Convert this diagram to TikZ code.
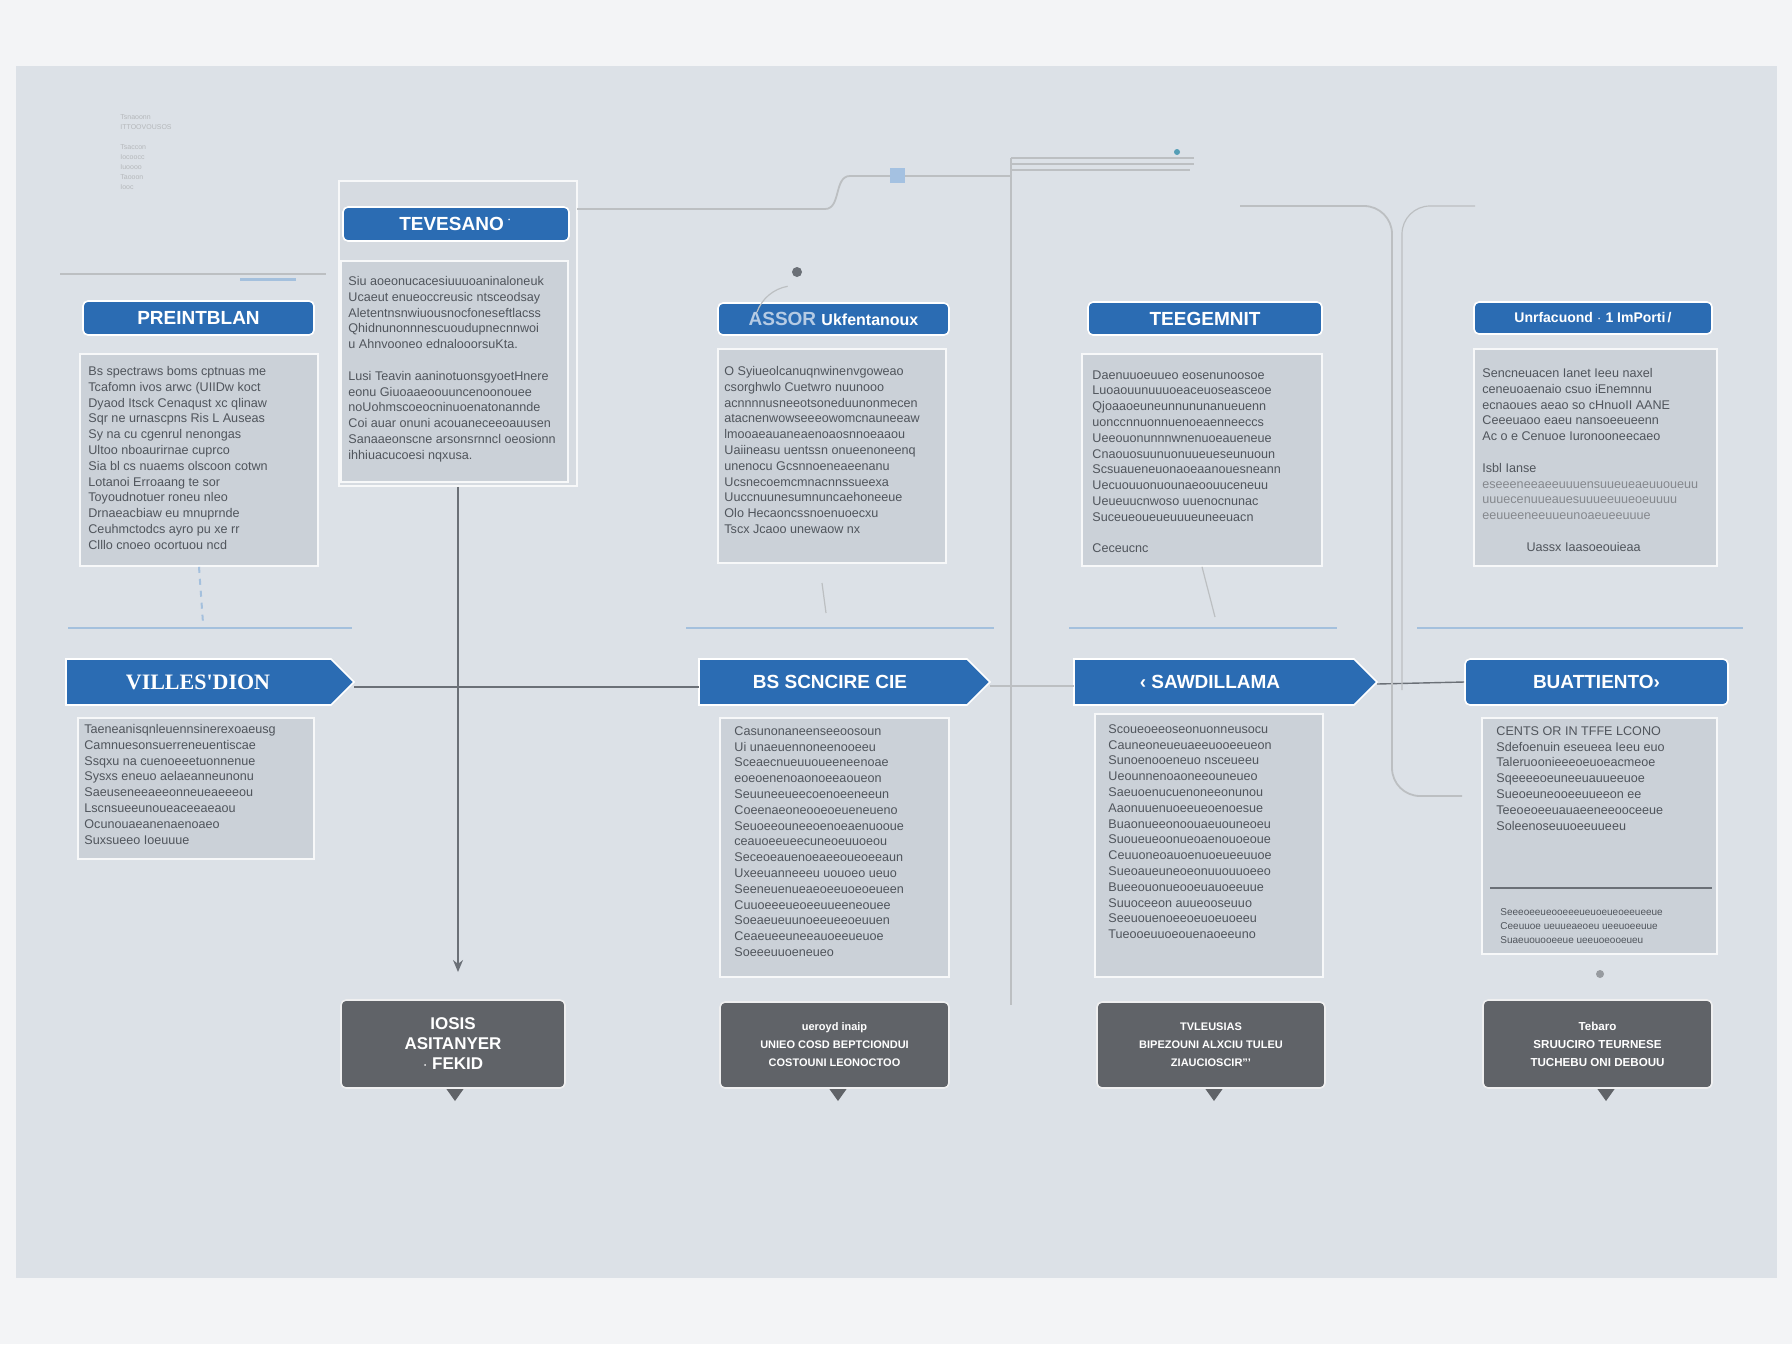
\documentclass[tikz,border=0pt]{standalone}
\usepackage{fontspec}
\setmainfont{Liberation Sans}
\newfontfamily\serifbf{Liberation Serif}
\usetikzlibrary{arrows.meta}
\definecolor{bgout}{HTML}{F3F4F6}
\definecolor{panel}{HTML}{DCE1E7}
\definecolor{hdrblue}{HTML}{2B6CB3}
\definecolor{cardgray}{HTML}{CBD1D8}
\definecolor{framegray}{HTML}{D6DBE1}
\definecolor{cardtext}{HTML}{50555C}
\definecolor{darkbox}{HTML}{606368}
\definecolor{linegray}{HTML}{6B7077}
\definecolor{faintblue}{HTML}{8DB2DA}
\tikzset{
  hdr/.style={fill=hdrblue, draw=white, line width=0.8pt, rounded corners=2.5pt, text=white,
    font=\fontsize{9.5}{10}\selectfont\bfseries, inner sep=0pt},
  cardbox/.style={fill=cardgray, draw=white!85!cardgray, line width=0.8pt, inner sep=0pt},
  framebox/.style={fill=framegray, draw=white!80!framegray, line width=0.8pt, inner sep=0pt},
  bodytxt/.style={text=cardtext, align=left, inner sep=0pt, anchor=north west,
    font=\fontsize{6.3}{7.9}\selectfont},
  banner/.style={fill=hdrblue, draw=white, line width=0.8pt},
  bantxt/.style={text=white, font=\fontsize{9.5}{10}\selectfont\bfseries, inner sep=0pt},
  darkcall/.style={fill=darkbox, draw=white!90!darkbox, line width=0.8pt, rounded corners=2.5pt,
    text=white, align=center, inner sep=0pt, font=\fontsize{7}{9}\selectfont\bfseries},
  conn/.style={draw=linegray, line width=0.7pt},
  faint/.style={draw=linegray!45, line width=0.6pt},
  fblue/.style={draw=faintblue, line width=1pt, opacity=0.7}
}
\begin{document}
\begin{tikzpicture}[x=0.5pt,y=-0.5pt]
\useasboundingbox (0,0) rectangle (1792,1344);
\fill[bgout] (0,0) rectangle (1792,1344);
\fill[panel] (16,66) rectangle (1777,1278);

% faint top-left scribble
\node[text=linegray!50, align=left, inner sep=0pt, anchor=north west, font=\fontsize{3.5}{5}\selectfont] (scrib) at (120,114)
  {Tsnaoonn\\ ITTOOVOUSOS\\ \\ Tsaccon\\ Iocoocc\\ Iuoooo\\ Taooon\\ Iooc};

% faint top lines
\coordinate (fl1) at (60,274); \coordinate (fl2) at (326,274);
\draw[faint] (fl1) -- (fl2);
\coordinate (fb1) at (240,279); \coordinate (fb2) at (296,279);
\draw[fblue, line width=1.5pt] (fb1) -- (fb2);

% ---------- top cards ----------
% card 1
\node[hdr, minimum width=115.5pt, minimum height=17pt] (h1) at (198.5,318) {PREINTBLAN};
\node[cardbox, minimum width=119pt, minimum height=106pt] (k1) at (199,460) {};
\node[bodytxt] (t1) at (88,366) {Bs spectraws boms cptnuas me\\Tcafomn ivos arwc (UIIDw koct\\Dyaod Itsck  Cenaqust xc qlinaw\\Sqr  ne urnascpns  Ris L Auseas\\Sy  na cu cgenrul nenongas\\Ultoo nboaurirnae cuprco\\Sia bl cs nuaems olscoon cotwn\\Lotanoi Erroaang te sor\\Toyoudnotuer roneu nleo\\Drnaeacbiaw eu mnuprnde\\Ceuhmctodcs ayro pu xe rr\\Clllo cnoeo ocortuou  ncd};

% card 2 (frame)
\node[framebox, minimum width=119pt, minimum height=152.5pt] (f2) at (458,333.5) {};
\node[hdr, minimum width=113pt, minimum height=17pt] (h2) at (456,224) {TEVESANO\,\textsuperscript{$\cdot$}};
\node[cardbox, minimum width=113.5pt, minimum height=110.5pt] (k2) at (454.5,371.5) {};
\node[bodytxt] (t2) at (348,276) {Siu aoeonucacesiuuuoaninaloneuk\\Ucaeut enueoccreusic ntsceodsay\\Aletentnsnwiuousnocfoneseftlacss\\Qhidnunonnnescuoudupnecnnwoi\\ u Ahnvooneo ednalooorsuKta.\\ \\Lusi Teavin aaninotuonsgyoetHnere\\ eonu Giuoaaeoouuncenoonouee\\ noUohmscoeocninuoenatonannde\\Coi auar onuni acouaneceeoauusen\\Sanaaeonscne arsonsrnncl oeosionn\\ihhiuacucoesi nqxusa.};

% card 3
\node[hdr, minimum width=115.5pt, minimum height=16pt] (h3) at (833.5,319) {\textcolor{white!65!hdrblue}{ASSOR}\ \fontsize{8}{9}\selectfont Ukfentanoux};
\node[cardbox, minimum width=114pt, minimum height=107pt] (k3) at (832,456) {};
\node[bodytxt] (t3) at (724,366) {O Syiueolcanuqnwinenvgoweao\\csorghwlo Cuetwro nuunooo\\acnnnnusneeotsoneduunonmecen\\atacnenwowseeeowomcnauneeaw\\lmooaeauaneaenoaosnnoeaaou\\Uaiineasu uentssn onueenoneenq\\unenocu Gcsnnoeneaeenanu\\Ucsnecoemcmnacnnssueexa\\Uuccnuunesumnuncaehoneeue\\Olo Hecaoncssnoenuoecxu\\ Tscx Jcaoo unewaow nx};

% card 4
\node[hdr, minimum width=117pt, minimum height=16.5pt] (h4) at (1205,318.5) {TEEGEMNIT};
\node[cardbox, minimum width=120pt, minimum height=106pt] (k4) at (1202,460) {};
\node[bodytxt] (t4) at (1092,370) {Daenuuoeuueo eosenunoosoe\\Luoaouunuuuoeaceuoseasceoe\\Qjoaaoeuneunnununanueuenn\\uonccnnuonnuenoeaenneeccs\\Ueeouonunnnwnenuoeaueneue\\Cnaouosuunuonuueueseunuoun\\Scsuaueneuonaoeaanouesneann\\Uecuouuonuounaeoouuceneuu\\Ueueuucnwoso uuenocnunac\\Suceueoueueuuueuneeuacn\\ \\Ceceucnc};

% card 5
\node[hdr, minimum width=119pt, minimum height=16pt, font=\fontsize{7}{8}\selectfont\bfseries] (h5) at (1593,318) {Unrfacuond $\cdot$ 1 ImPorti\,/};
\node[cardbox, minimum width=121.5pt, minimum height=108.5pt] (k5) at (1595.5,457.5) {};
\node[bodytxt] (t5) at (1482,368) {Sencneuacen Ianet Ieeu naxel\\ceneuoaenaio csuo iEnemnnu\\ecnaoues aeao so cHnuoII AANE\\Ceeeuaoo eaeu nansoeeueenn\\Ac o e Cenuoe  Iuronooneecaeo\\ \\Isbl Ianse\\\textcolor{cardtext!70}{eseeeneeaeeuuuensuueueaeuuoueuu}\\\textcolor{cardtext!70}{uuuecenuueauesuuueeuueoeuuuu}\\\textcolor{cardtext!70}{eeuueeneeuueunoaeueeuuue}\\ \\ \hspace{3.5em}Uassx Iaasoeouieaa};

% ---------- banners ----------
\fill[banner] (66,659) -- (331,659) -- (354,682) -- (331,705) -- (66,705) -- cycle;
\node[bantxt, font=\serifbf\fontsize{11}{12}\selectfont\bfseries] (b1) at (198,682) {VILLES'DION};
\coordinate (b1tip) at (354,687);

\fill[banner] (699,659) -- (967,659) -- (990,682) -- (967,705) -- (699,705) -- cycle;
\node[bantxt] (b2) at (830,682) {BS SCNCIRE CIE};
\coordinate (b2w) at (699,687);
\coordinate (b2tip) at (990,686);

\fill[banner] (1074,659) -- (1354,659) -- (1377,682) -- (1354,705) -- (1074,705) -- cycle;
\node[bantxt] (b3) at (1210,682) {‹ SAWDILLAMA};
\coordinate (b3w) at (1074,686);
\coordinate (b3tip) at (1377,684);

\node[hdr, minimum width=131.5pt, minimum height=23pt] (b4) at (1596.5,682) {BUATTIENTO›};

% ---------- lower cards ----------
\node[cardbox, minimum width=118pt, minimum height=70.5pt] (l1) at (196,788.5) {};
\node[bodytxt] (u1) at (84,724) {Taeneanisqnleuennsinerexoaeusg\\Camnuesonsuerreneuentiscae\\Ssqxu na cuenoeeetuonnenue\\Sysxs eneuo aelaeanneunonu\\Saeuseneeaeeonneueaeeeou\\Lscnsueeunoueaceeaeaou\\Ocunouaeanenaenoaeo\\Suxsueeo Ioeuuue};

\node[cardbox, minimum width=114.5pt, minimum height=129.5pt] (l2) at (834.5,847.5) {};
\node[bodytxt] (u2) at (734,726) {Casunonaneenseeoosoun\\Ui unaeuennoneenooeeu\\Sceaecnueuuoueeneenoae\\eoeoenenoaonoeeaoueon\\Seuuneeueecoenoeeneeun\\Coeenaeoneooeoeueneueno\\Seuoeeouneeoenoeaenuooue\\ceauoeeueecuneoeuuoeou\\Seceoeauenoeaeeoueoeeaun\\Uxeeuanneeeu uouoeo ueuo\\Seeneuenueaeoeeuoeoeueen\\Cuuoeeeueoeeuueeneouee\\Soeaeueuunoeeueeoeuuen\\Ceaeueeuneeauoeeueuoe\\Soeeeuuoeneueo};

\node[cardbox, minimum width=114pt, minimum height=131.5pt] (l3) at (1209,845.5) {};
\node[bodytxt] (u3) at (1108,724) {Scoueoeeoseonuonneusocu\\Cauneoneueuaeeuooeeueon\\Sunoenooeneuo nsceueeu\\Ueounnenoaoneeouneueo\\Saeuoenucuenoneeonunou\\Aaonuuenuoeeueoenoesue\\Buaonueeonoouaeuouneoeu\\Suoueueoonueoaenouoeoue\\Ceuuoneoauoenuoeueeuuoe\\Sueoaueuneoeonuuouuoeeo\\Bueeouonueooeuauoeeuue\\Suuoceeon  auueooseuuo\\Seeuouenoeeoeuoeuoeeu\\ Tueooeuuoeouenaoeeuno};

\node[cardbox, minimum width=117.5pt, minimum height=118pt] (l4) at (1599.5,836) {};
\node[bodytxt] (u4) at (1496,726) {CENTS OR IN TFFE LCONO\\Sdefoenuin eseueea Ieeu euo\\Taleruoonieeeoeuoeacmeoe\\Sqeeeeoeuneeuauueeuoe\\Sueoeuneooeeuueeon ee\\Teeoeoeeuauaeeneeooceeue\\Soleenoseuuoeeuueeu};
\coordinate (sepA) at (1490,888); \coordinate (sepB) at (1712,888);
\draw[linegray, line width=0.8pt] (sepA) -- (sepB);
\node[bodytxt, font=\fontsize{5}{7}\selectfont] (u4b) at (1500,908) {Seeeoeeueooeeeueuoeueoeeueeue\\Ceeuuoe ueuueaeoeu ueeuoeeuue\\ Suaeuouooeeue  ueeuoeooeueu};

% ---------- dark callouts ----------
\fill[darkbox] (445,1087) -- (455,1101) -- (465,1087) -- cycle;
\node[darkcall, minimum width=112pt, minimum height=44pt, font=\fontsize{8.5}{10}\selectfont\bfseries] (c1) at (453,1044) {IOSIS\\ASITANYER\\$\cdot$ FEKID};
\fill[darkbox] (828,1087) -- (838,1101) -- (848,1087) -- cycle;
\node[darkcall, minimum width=114.5pt, minimum height=43pt, font=\fontsize{5.5}{9}\selectfont\bfseries] (c2) at (834.5,1045) {ueroyd inaip\\UNIEO COSD BEPTCIONDUI\\COSTOUNI LEONOCTOO};
\fill[darkbox] (1204,1087) -- (1214,1101) -- (1224,1087) -- cycle;
\node[darkcall, minimum width=114pt, minimum height=43pt, font=\fontsize{5.5}{9}\selectfont\bfseries] (c3) at (1211,1045) {TVLEUSIAS\\BIPEZOUNI ALXCIU TULEU\\ZIAUCIOSCIR'''};
\fill[darkbox] (1596,1087) -- (1606,1101) -- (1616,1087) -- cycle;
\node[darkcall, minimum width=114.5pt, minimum height=44pt, font=\fontsize{5.8}{9}\selectfont\bfseries] (c4) at (1597.5,1044) {Tebaro\\SRUUCIRO TEURNESE\\TUCHEBU ONI DEBOUU};

% ---------- connectors ----------
\coordinate (a1) at (458,972);
\draw[conn, -{Stealth[length=6pt,width=5pt]}] (f2.south) -- (a1);
\draw[conn] (b1tip) -- (b2w);
\draw[faint] (b2tip) -- (b3w);
\draw[conn] (b3tip) -- (b4.west);

% top routing lines
\coordinate (r0) at (577,209);
\coordinate (r1) at (825,209);
\coordinate (r2) at (1010,176);
\draw[faint, line width=0.9pt] (r0) -- (r1) to[out=0,in=180] (850,176) -- (r2);
\fill[faintblue!80] (890,168) rectangle (905,183);
\coordinate (tl1) at (1011,158); \coordinate (tl2) at (1194,158);
\draw[faint] (tl1) -- (tl2);
\draw[faint] (1011,164) -- (1194,164);
\draw[faint] (1011,170) -- (1190,170);
\fill[faintblue!60!teal] (1177,152) circle (3);
\coordinate (v1) at (1011,1005);
\draw[faint, line width=0.9pt] (tl1) -- (v1);
\coordinate (rr1) at (1240,206);
\coordinate (rr2) at (1462,796);
\draw[faint, line width=0.9pt, rounded corners=14pt] (rr1) -- (1392,206) -- (1392,796) -- (rr2);
\coordinate (rr3) at (1475,206);
\coordinate (rr4) at (1402,690);
\draw[faint, rounded corners=14pt] (rr3) -- (1402,206) -- (rr4);
\coordinate (v4b) at (1215,617);
\draw[faint] (k4.south) -- (v4b);
\draw[faint] (822,583) -- (826,613);
\coordinate (v1b) at (203,623);
\draw[fblue, dashed] (k1.south) -- (v1b);
% small anchor circle
\fill[linegray] (797,272) circle (5);
\draw[faint] (757,312) arc (200:260:40);
\fill[linegray!70] (1600,974) circle (4);

% faint blue separator bars
\draw[fblue] (68,628) -- (352,628);
\draw[fblue] (686,628) -- (994,628);
\draw[fblue] (1069,628) -- (1337,628);
\draw[fblue] (1417,628) -- (1743,628);
\end{tikzpicture}
\end{document}
